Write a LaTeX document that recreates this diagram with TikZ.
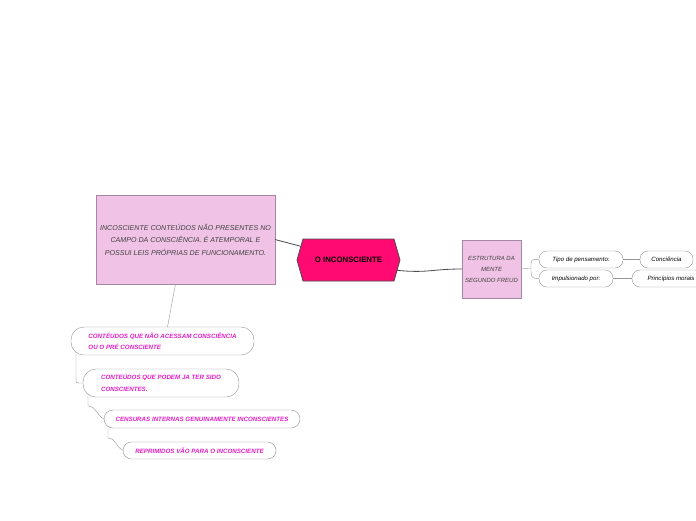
\documentclass[tikz,border=0pt]{standalone}
\usepackage{fontspec}
\setmainfont{Liberation Sans}
\usetikzlibrary{shapes.symbols}
\definecolor{lilac}{RGB}{240,195,230}
\definecolor{lilacline}{RGB}{165,135,165}
\definecolor{hotpink}{RGB}{255,10,115}
\definecolor{magtext}{RGB}{228,30,200}
\definecolor{darkline}{RGB}{75,75,75}
\definecolor{lightline}{RGB}{150,150,150}

\begin{document}
\begin{tikzpicture}[x=1pt,y=-1pt,every node/.style={outer sep=0pt, inner sep=0pt},
  topicbox/.style={fill=lilac, draw=lilacline, align=center, text=black!75, font=\fontsize{7.1}{12.5}\selectfont\itshape},
  centrehex/.style={shape=signal, signal to=west and east, signal pointer angle=148, fill=hotpink, draw=darkline, thick, minimum width=103pt, minimum height=42pt, font=\fontsize{7.8}{9}\selectfont\bfseries},
  pill/.style={draw=gray!85, fill=white, align=left, text=magtext, font=\fontsize{6.2}{11.5}\selectfont\bfseries\itshape},
  smallpill/.style={draw=gray!85, fill=white, rounded corners=8pt, minimum height=17pt, font=\fontsize{6.1}{7}\selectfont\itshape},
  darklink/.style={draw=darkline, thick},
  lightlink/.style={draw=lightline}]

\useasboundingbox (0,0) rectangle (696,520);

\node[topicbox, minimum width=179pt, minimum height=89pt] (inco) at (185.5,239.5) {INCOSCIENTE CONTEÚDOS NÃO PRESENTES NO\\ CAMPO DA CONSCIÊNCIA. É ATEMPORAL E\\ POSSUI LEIS PRÓPRIAS DE FUNCIONAMENTO.};
\node[centrehex] (ocentro) at (348.5,260) {O INCONSCIENTE};
\node[topicbox, minimum width=59pt, minimum height=58pt, font=\fontsize{6}{11}\selectfont\itshape] (estr) at (491.5,269) {ESTRUTURA DA\\ MENTE\\ SEGUNDO FREUD};

\node[smallpill, minimum width=84pt] (tipo) at (581,259.5) {Tipo de pensamento:};
\node[smallpill, minimum width=74pt] (impul) at (576,278.5) {Impulsionado por:};
\node[smallpill, minimum width=53pt] (conc) at (666.5,259.5) {Conciência};
\node[smallpill, minimum width=78pt] (princ) at (671,278.5) {Princípios morais};

\node[pill, rounded corners=13pt, minimum width=183pt, minimum height=28pt] (pill1) at (162.5,341) {CONTÉUDOS QUE NÃO ACESSAM CONSCIÊNCIA\\ OU O PRÉ CONSCIENTE};
\node[pill, rounded corners=13pt, minimum width=156pt, minimum height=28pt] (pill2) at (161,383) {CONTEÚDOS QUE PODEM JA TER SIDO\\ CONSCIENTES.};
\node[pill, rounded corners=9pt, minimum width=196pt, minimum height=18pt] (pill3) at (202,419) {CENSURAS INTERNAS GENUINAMENTE INCONSCIENTES};
\node[pill, rounded corners=8.5pt, minimum width=153pt, minimum height=17pt] (pill4) at (199.5,450.5) {REPRIMIDOS VÃO PARA O INCONSCIENTE};

% ligacoes principais
\draw[darklink] (inco.east) -- (ocentro.164);
\draw[darklink] (ocentro.-12) .. controls +(30,3) and +(-30,0) .. (estr.west);

% estrutura
\coordinate (fork) at (531,268);
\draw[lightlink] (estr.east) -- (fork);
\draw[lightlink] (fork) .. controls (531,259) .. (tipo.west);
\draw[lightlink] (fork) .. controls (531,278) .. (impul.west);
\draw[lightlink] (tipo.east) -- (conc.west);
\draw[lightlink] (impul.east) -- (princ.west);

% conteudos
\draw[lightlink] ([xshift=-10pt]inco.south) -- ([xshift=5pt]pill1.north);
\draw[lightlink] ([shift={(5,-3)}]pill1.south west) -- ++(0,28) .. controls +(0,3) .. (pill2.west);
\draw[lightlink] ([shift={(5,-3)}]pill2.south west) -- ++(0,12) .. controls +(8,0) and +(-6,-2) .. (pill3.west);
\draw[lightlink] ([shift={(4,-2)}]pill3.south west) -- ++(0,12) .. controls +(8,0) and +(-6,-2) .. (pill4.west);
\end{tikzpicture}
\end{document}
